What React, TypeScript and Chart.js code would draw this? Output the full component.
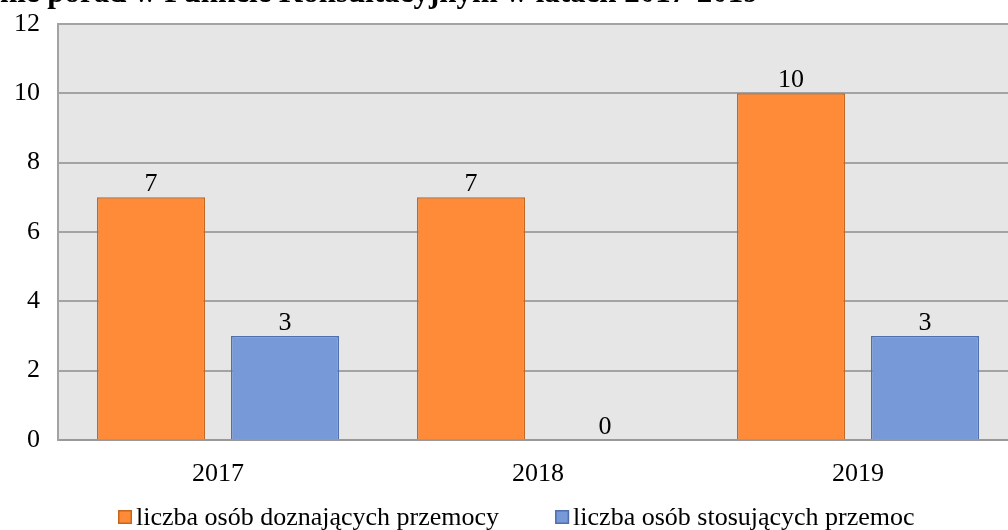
import React, { useEffect, useRef } from "react";
import { Chart, registerables } from "chart.js";

Chart.register(...registerables);

const categories = ["2017", "2018", "2019"];
const seriesNames = ["liczba osób doznających przemocy", "liczba osób stosujących przemoc"];
const victims = [7, 7, 10];
const perpetrators = [3, 0, 3];
const yTicks = [0, 2, 4, 6, 8, 10, 12];
const titleText = "Udzielanie porad w Punkcie Konsultacyjnym w latach 2017-2019";
const titleHiddenPrefix = "Udziela";

const FONT = "'Liberation Serif', 'Times New Roman', serif";
const FS = 26;

const bgPlugin = {
  id: "plotBg",
  beforeDraw(chart: any) {
    const { ctx, chartArea } = chart;
    ctx.save();
    ctx.fillStyle = "#e6e6e6";
    ctx.fillRect(chartArea.left, chartArea.top, chartArea.right - chartArea.left, chartArea.bottom - chartArea.top);
    ctx.restore();
  },
};

const labelsPlugin = {
  id: "valueLabels",
  afterDatasetsDraw(chart: any) {
    const { ctx } = chart;
    ctx.save();
    ctx.font = `${FS}px ${FONT}`;
    ctx.fillStyle = "#000";
    ctx.textAlign = "center";
    ctx.textBaseline = "alphabetic";
    chart.data.datasets.forEach((ds: any, i: number) => {
      const meta = chart.getDatasetMeta(i);
      meta.data.forEach((bar: any, j: number) => {
        ctx.fillText(String(ds.data[j]), bar.x, bar.y - 6);
      });
    });
    ctx.restore();
  },
};

const titlePlugin = {
  id: "cutTitle",
  afterDraw(chart: any) {
    const { ctx } = chart;
    ctx.save();
    ctx.font = `bold 31px ${FONT}`;
    ctx.fillStyle = "#000";
    ctx.textAlign = "left";
    ctx.textBaseline = "alphabetic";
    const pre = ctx.measureText(titleHiddenPrefix).width;
    ctx.fillText(titleText, -pre, 2);
    ctx.restore();
  },
};

const legendPlugin = {
  id: "customLegend",
  afterDraw(chart: any) {
    const { ctx } = chart;
    ctx.save();
    ctx.font = `${FS}px ${FONT}`;
    ctx.textBaseline = "alphabetic";
    ctx.textAlign = "left";
    const boxTop = 510;
    const baseline = 525;
    let x = 118;
    chart.data.datasets.forEach((ds: any) => {
      ctx.fillStyle = ds.backgroundColor;
      ctx.strokeStyle = ds.borderColor;
      ctx.lineWidth = 1.5;
      ctx.fillRect(x, boxTop, 14, 14);
      ctx.strokeRect(x + 0.75, boxTop + 0.75, 12.5, 12.5);
      ctx.fillStyle = "#000";
      ctx.fillText(ds.label, x + 18, baseline);
      x += 18 + ctx.measureText(ds.label).width + 56;
    });
    ctx.restore();
  },
};

export default function App() {
  const ref = useRef<HTMLCanvasElement>(null);
  useEffect(() => {
    if (!ref.current) return;
    const chart = new Chart(ref.current, {
      type: "bar",
      data: {
        labels: categories,
        datasets: [
          {
            label: seriesNames[0],
            data: victims,
            backgroundColor: "#ff8a38",
            borderColor: "#c5661f",
            borderWidth: 1.5,
            categoryPercentage: 0.8375,
            barPercentage: 0.806,
          },
          {
            label: seriesNames[1],
            data: perpetrators,
            backgroundColor: "#7799d8",
            borderColor: "#4f6fae",
            borderWidth: 1.5,
            categoryPercentage: 0.8375,
            barPercentage: 0.806,
          },
        ],
      },
      options: {
        responsive: false,
        animation: false,
        layout: { padding: { top: 24, right: 12, left: 0, bottom: 0 } },
        plugins: {
          legend: { display: false },
          tooltip: { enabled: false },
          title: { display: false },
        },
        scales: {
          x: {
            grid: { display: false, drawTicks: false },
            border: { display: true, color: "#999999", width: 2 },
            ticks: { color: "#000", font: { family: FONT, size: FS }, padding: 19 },
            afterFit(scale: any) {
              scale.height = 90;
              scale.paddingLeft = 0;
              scale.paddingRight = 0;
            },
          },
          y: {
            min: 0,
            max: 12,
            afterBuildTicks(scale: any) {
              scale.ticks = yTicks.map((v) => ({ value: v }));
            },
            grid: { color: "#a3a3a3", lineWidth: 2, drawTicks: false },
            border: { display: true, color: "#a3a3a3", width: 2 },
            ticks: { color: "#000", font: { family: FONT, size: FS }, padding: 18 },
            afterFit(scale: any) {
              scale.width = 58;
              scale.paddingTop = 0;
              scale.paddingBottom = 0;
            },
          },
        },
      },
      plugins: [bgPlugin, labelsPlugin, titlePlugin, legendPlugin],
    } as any);
    return () => chart.destroy();
  }, []);
  return (
    <div style={{ position: "absolute", left: 0, top: 0, width: 1008, height: 530, overflow: "hidden", background: "#fff" }}>
      <canvas ref={ref} width={1030} height={530} style={{ display: "block" }} />
    </div>
  );
}
